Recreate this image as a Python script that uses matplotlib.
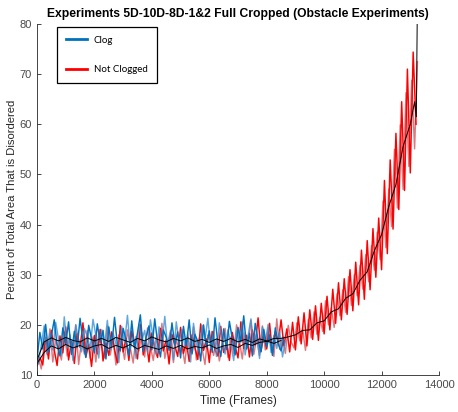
import matplotlib
matplotlib.use("Agg")
import matplotlib.pyplot as plt
from matplotlib.lines import Line2D
import numpy as np

# ---- data ----
# experiment 1 sampled at frames 0, 100, 200 ... ; experiment 2 at 50, 150, 250 ...
clog_a = [13.0, 18.5, 15.2, 20.1, 14.6, 17.8, 21.0, 15.9, 13.8, 19.4,
          16.2, 20.6, 14.1, 18.7, 15.5, 21.3, 16.8, 13.5, 19.9, 17.2,
          14.4, 20.2, 16.5, 18.9, 13.2, 19.6, 15.7, 21.5, 16.1, 14.8,
          19.3, 17.0, 13.9, 20.8, 15.3, 18.4, 22.0, 14.7, 17.6, 19.8,
          15.0, 21.2, 16.4, 13.6, 19.0, 17.5, 14.9, 20.4, 16.0, 18.6,
          13.4, 19.7, 15.8, 21.0, 14.2, 18.1, 16.7, 12.8, 20.0, 15.4,
          18.8, 14.5, 21.4, 16.3, 13.7, 19.2, 15.1, 20.7, 17.3, 14.0,
          19.5, 16.6, 21.8, 15.2, 18.3, 13.8, 20.3, 16.9, 14.6, 19.1,
          15.6, 18.0, 13.9, 19.4, 16.2, 14.8, 17.5]
clog_b = [12.2, 16.0, 19.8, 14.3, 18.2, 15.0, 20.5, 17.1, 14.0, 21.6,
          15.4, 18.0, 12.9, 20.0, 16.9, 14.6, 19.3, 17.7, 15.1, 21.1,
          17.9, 13.4, 19.0, 15.6, 20.9, 14.9, 18.3, 16.2, 12.5, 19.7,
          16.4, 21.9, 15.2, 17.6, 13.3, 20.2, 16.8, 18.9, 14.4, 21.0,
          17.3, 14.1, 19.6, 16.0, 21.7, 15.5, 18.4, 13.0, 20.6, 16.6,
          19.1, 15.9, 17.4, 12.6, 20.3, 16.2, 14.7, 19.9, 17.0, 21.3,
          15.3, 18.6, 13.7, 20.4, 16.9, 14.2, 19.0, 16.1, 12.9, 18.8,
          16.4, 20.6, 14.0, 17.8, 21.2, 15.7, 18.2, 13.3, 19.6, 16.5,
          20.1, 14.5, 17.9, 15.3, 18.7, 13.6, 16.8]
notclog_a = [11.8, 13.5, 12.0, 17.5, 13.2, 18.9, 15.0, 11.9, 17.8, 14.4,
             19.6, 13.0, 16.7, 12.3, 18.2, 15.5, 20.4, 13.6, 16.1, 11.7,
             17.9, 14.2, 19.1, 12.8, 16.4, 13.9, 18.6, 15.1, 12.4, 19.9,
             14.6, 17.3, 12.9, 18.8, 15.6, 13.2, 20.1, 14.0, 16.9, 12.6,
             18.4, 15.2, 13.5, 19.3, 14.8, 17.0, 12.2, 18.1, 15.9, 13.7,
             19.5, 14.3, 16.6, 12.7, 18.0, 15.4, 13.1, 20.2, 14.9, 17.2,
             12.5, 18.7, 15.0, 13.8, 19.7, 14.5, 16.3, 12.9, 18.5, 15.7,
             13.4, 20.6, 15.3, 17.9, 13.6, 19.0, 16.0, 21.4, 14.7, 18.1,
             15.2, 20.3, 14.4, 18.6, 16.5, 21.0, 15.8, 19.2, 14.6, 20.5,
             15.0, 21.6, 16.2, 22.4, 15.8, 23.0, 17.1, 23.8, 16.9, 24.3,
             18.2, 25.7, 19.0, 27.1, 20.3, 28.4, 21.0, 29.2, 22.1, 31.0,
             22.8, 32.5, 24.0, 34.9, 25.1, 36.8, 27.0, 39.2, 29.5, 41.3,
             31.0, 48.8, 34.2, 52.9, 39.1, 58.2, 43.0, 64.5, 46.8, 71.0,
             50.3, 74.4, 60.0]
notclog_b = [13.4, 11.2, 16.3, 14.1, 19.2, 12.6, 17.0, 15.3, 13.0, 18.6,
             13.8, 17.4, 15.0, 20.0, 12.1, 16.8, 14.2, 18.9, 13.3, 17.6,
             12.6, 18.3, 15.8, 13.4, 19.8, 14.0, 17.1, 12.0, 18.0, 16.2,
             13.1, 19.0, 15.4, 12.4, 17.7, 14.8, 18.5, 13.6, 19.4, 15.6,
             12.9, 17.5, 14.4, 20.3, 13.3, 16.2, 18.9, 12.5, 17.1, 14.9,
             15.7, 12.3, 18.2, 14.6, 19.6, 13.0, 17.4, 15.2, 12.1, 18.0,
             16.4, 13.9, 17.1, 12.8, 15.6, 19.3, 13.5, 17.6, 14.3, 20.0,
             16.8, 13.2, 18.4, 15.6, 20.9, 14.1, 17.3, 13.9, 19.8, 15.0,
             19.4, 16.0, 13.7, 21.2, 15.1, 17.6, 14.3, 19.9, 16.6, 15.4,
             20.4, 16.8, 19.2, 14.9, 21.1, 17.4, 22.6, 18.1, 21.5, 18.7,
             24.8, 20.0, 23.4, 19.5, 26.2, 21.8, 27.0, 22.5, 29.6, 23.9,
             30.0, 25.8, 31.9, 27.1, 34.0, 28.6, 35.8, 30.9, 38.5, 33.0,
             44.7, 35.4, 47.1, 39.6, 55.0, 43.3, 59.9, 47.0, 66.3, 51.6,
             68.8, 55.1, 72.5]
# running means, every 250 frames
clog_mean = [13.0, 16.6, 17.4, 16.8, 17.5, 16.9, 16.6, 17.4, 16.8, 17.3,
             16.7, 17.5, 17.0, 16.5, 17.3, 16.8, 17.6, 17.0, 16.6, 17.3,
             16.8, 17.4, 16.7, 17.1, 16.5, 17.2, 16.7, 17.3, 16.6, 17.1,
             16.5, 17.2, 16.8, 16.3, 16.9]
notclog_mean = [12.3, 14.5, 15.8, 15.2, 16.1, 15.4, 15.9, 15.2, 15.8, 16.1,
                15.3, 15.9, 15.4, 16.1, 15.2, 15.9, 15.5, 15.1, 15.8, 15.3,
                15.9, 15.2, 15.7, 15.4, 16.0, 15.3, 15.8, 16.1, 15.5, 16.3,
                15.9, 16.5, 16.7, 17.3, 17.3, 17.6, 18.0, 18.9, 19.0, 20.4,
                20.8, 22.6, 23.2, 25.3, 26.2, 28.9, 30.6, 34.8, 38.0, 43.6,
                48.0, 55.6, 60.0]
notclog_tail_frames = [13150, 13210, 13240]
notclog_tail = [64.5, 61.5, 80.0]

step = 100
mstep = 250

fig = plt.figure(figsize=(4.58, 4.12), dpi=100)
ax = fig.add_axes([37/458, 37/412, 402/458, 351/412])

blue = '#0072BD'
red = '#FF0000'
lw = 1.05

ax.plot(np.arange(len(notclog_b))*step + 50, notclog_b, color='#C8202C', lw=lw, alpha=0.6)
ax.plot(np.arange(len(notclog_a))*step, notclog_a, color=red, lw=lw)
ax.plot(np.arange(len(clog_b))*step + 50, clog_b, color='#3A93D6', lw=lw, alpha=0.8)
ax.plot(np.arange(len(clog_a))*step, clog_a, color=blue, lw=lw)
ax.plot(np.r_[np.arange(len(notclog_mean))*mstep, notclog_tail_frames],
        np.r_[notclog_mean, notclog_tail], color='k', lw=0.7)
ax.plot(np.arange(len(clog_mean))*mstep, clog_mean, color='k', lw=0.7)

ax.set_xlim(0, 14000)
ax.set_ylim(10, 80)
ax.set_xticks(np.arange(0, 14001, 2000))
ax.set_yticks(np.arange(10, 81, 10))
for s in ['top', 'right']:
    ax.spines[s].set_visible(False)
for s in ['left', 'bottom']:
    ax.spines[s].set_color('#262626')
    ax.spines[s].set_linewidth(0.6)
ax.tick_params(direction='in', length=3, width=0.6, colors='#262626',
               labelcolor='#4a4a4a', labelsize=8)
for lab in ax.get_xticklabels() + ax.get_yticklabels():
    lab.set_family('Liberation Sans')

ax.set_xlabel('Time (Frames)', family='Liberation Sans', fontsize=8.5, color='#262626', labelpad=4)
ax.set_ylabel('Percent of Total Area That is Disordered', family='Liberation Sans',
              fontsize=8.1, color='#262626', labelpad=2)
ax.set_title('Experiments 5D-10D-8D-1&2 Full Cropped (Obstacle Experiments)',
             family='Liberation Sans', fontweight='bold', fontsize=8.7, pad=5)

handles = [Line2D([], [], color=blue, lw=2), Line2D([], [], color=red, lw=2)]
leg = ax.legend(handles, ['Clog', 'Not Clogged'], loc='upper left',
                bbox_to_anchor=(57/458, 385/412), bbox_transform=fig.transFigure,
                borderaxespad=0, fancybox=False, edgecolor='k', framealpha=1,
                prop={'family': 'Lato', 'size': 7}, labelspacing=2.1,
                handlelength=2.2, handletextpad=0.7, borderpad=0.9)
leg.get_frame().set_linewidth(0.9)

fig.savefig('out.png', dpi=100)
